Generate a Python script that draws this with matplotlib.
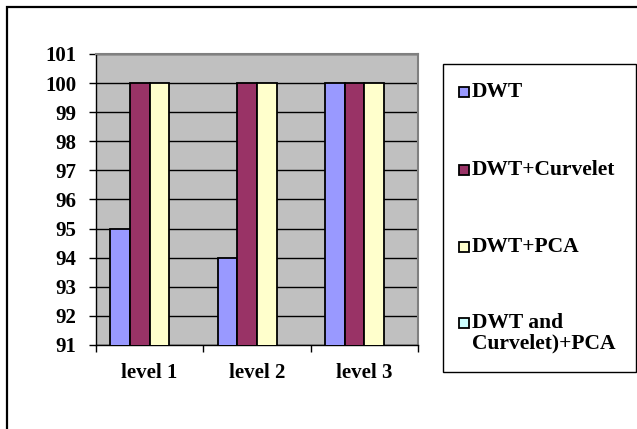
import matplotlib.pyplot as plt
import numpy as np
from matplotlib.patches import Rectangle

# Данные
levels = ["level 1", "level 2", "level 3"]
series = ["DWT", "DWT+Curvelet", "DWT+PCA", "DWT and\nCurvelet)+PCA"]
dwt = [95, 94, 100]
dwt_curvelet = [100, 100, 100]
dwt_pca = [100, 100, 100]
dwt_curvelet_pca = [0, 0, 0]
colors = ["#9999FF", "#993366", "#FFFFCC", "#CCFFFF"]

plt.rcParams["font.family"] = ["Liberation Serif", "DejaVu Serif"]
plt.rcParams["font.weight"] = "bold"

fig = plt.figure(figsize=(6.37, 4.29), dpi=100)
ax = fig.add_axes([96 / 637, 1 - 345 / 429, 322 / 637, 291 / 429])
ax.set_facecolor("#C0C0C0")

x = np.arange(len(levels))
w = 0.184
values = [dwt, dwt_curvelet, dwt_pca, dwt_curvelet_pca]
for i, (vals, c) in enumerate(zip(values, colors)):
    ax.bar(x + (i - 1.5) * w, vals, w, color=c, edgecolor="black",
           linewidth=1.3, zorder=3)

ax.set_ylim(91, 101)
ax.set_yticks(range(91, 102))
ax.set_xlim(-0.5, 2.5)
ax.set_xticks([-0.5, 0.5, 1.5, 2.5])
ax.set_xticklabels([])
ax.set_xticks(x, minor=True)
ax.set_xticklabels(levels, minor=True)
ax.tick_params(axis="x", which="minor", length=0, pad=13, labelsize=15)
ax.tick_params(axis="x", which="major", length=5, width=1)
ax.tick_params(axis="y", length=5, width=1, pad=9, labelsize=15)
ax.grid(axis="y", color="black", linewidth=1, zorder=1)
ax.set_axisbelow(True)

for s in ["top", "right"]:
    ax.spines[s].set_color("#808080")
    ax.spines[s].set_linewidth(1.5)
for s in ["left", "bottom"]:
    ax.spines[s].set_color("black")
    ax.spines[s].set_linewidth(1)

# Легенда
W, H = 637, 429
fig.add_artist(Rectangle((443 / W, 1 - 372 / H), 193 / W, 308 / H,
                         transform=fig.transFigure, facecolor="white",
                         edgecolor="black", linewidth=1))
entry_y = [92, 170, 247, 323]
for name, c, yy in zip(series, colors, entry_y):
    fig.add_artist(Rectangle((459 / W, 1 - (yy + 5) / H), 10 / W, 10 / H,
                             transform=fig.transFigure, facecolor=c,
                             edgecolor="black", linewidth=1.3))
    fig.text(472 / W, 1 - (yy - 10) / H, name, fontsize=15.5, fontweight="bold",
             va="top", ha="left", linespacing=1.0)

# Рамка
fig.add_artist(Rectangle((7 / W, -0.1), 1.2, 1 - 7 / H + 0.1,
                         transform=fig.transFigure, fill=False,
                         edgecolor="black", linewidth=1.6))

fig.savefig("out.png", dpi=100)
